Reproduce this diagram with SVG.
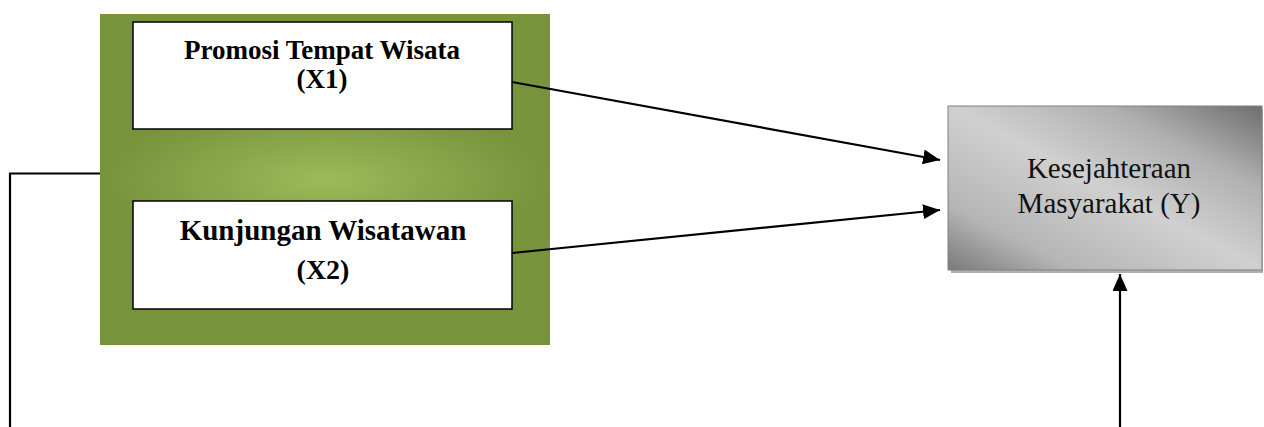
<svg xmlns="http://www.w3.org/2000/svg" width="1264" height="427" viewBox="0 0 1264 427">
<defs>
<radialGradient id="green" cx="0.5" cy="0.5" r="0.5" gradientTransform="translate(0.5,0.5) scale(1,0.45) translate(-0.5,-0.5)">
<stop offset="0" stop-color="#9BBB59"/>
<stop offset="1" stop-color="#77933C"/>
</radialGradient>
<linearGradient id="gray" x1="0" y1="1" x2="1" y2="0">
<stop offset="0" stop-color="#7a7a7a"/>
<stop offset="0.2" stop-color="#b5b5b5"/>
<stop offset="0.5" stop-color="#d0d0d0"/>
<stop offset="0.75" stop-color="#b0b0b0"/>
<stop offset="1" stop-color="#6e6e6e"/>
</linearGradient>
<marker id="arr" viewBox="0 0 10 10" refX="10" refY="5" markerWidth="17" markerHeight="15" markerUnits="userSpaceOnUse" orient="auto" preserveAspectRatio="none">
<path d="M0,0 L10,5 L0,10 z" fill="#000"/>
</marker>
<style>
.box{fill:#fff;stroke:#000;stroke-width:1.5}
.bt{font-family:"Liberation Serif",serif;font-weight:bold;fill:#000;text-anchor:middle}
.rt{font-family:"Liberation Serif",serif;fill:#111;text-anchor:middle;font-size:29px}
.ln{stroke:#000;stroke-width:2.2;fill:none}
</style>
</defs>
<g id="group-x">
<rect x="100" y="14" width="450" height="331" fill="url(#green)"/>
</g>
<g id="node-x1">
<rect class="box" x="133" y="22" width="379" height="107"/>
<text class="bt" x="322" y="59" font-size="27">Promosi Tempat Wisata</text>
<text class="bt" x="322" y="88" font-size="27">(X1)</text>
</g>
<g id="node-x2">
<rect class="box" x="133" y="201" width="379" height="108"/>
<text class="bt" x="323" y="240" font-size="29">Kunjungan Wisatawan</text>
<text class="bt" x="323" y="279" font-size="28">(X2)</text>
</g>
<g id="node-y">
<rect x="951" y="109" width="312" height="164" fill="#b0b0b0"/>
<rect x="948" y="106" width="314" height="164" fill="url(#gray)" stroke="#808080" stroke-width="1"/>
<text class="rt" x="1109" y="178">Kesejahteraan</text>
<text class="rt" x="1109" y="213">Masyarakat (Y)</text>
</g>
<g id="connectors">
<line class="ln" x1="512" y1="82" x2="940" y2="160" marker-end="url(#arr)"/>
<line class="ln" x1="512" y1="253" x2="940" y2="210" marker-end="url(#arr)"/>
<line class="ln" x1="1120" y1="427" x2="1120" y2="274" marker-end="url(#arr)"/>
<polyline class="ln" points="100,173.5 10,173.5 10,427"/>
</g>
</svg>
